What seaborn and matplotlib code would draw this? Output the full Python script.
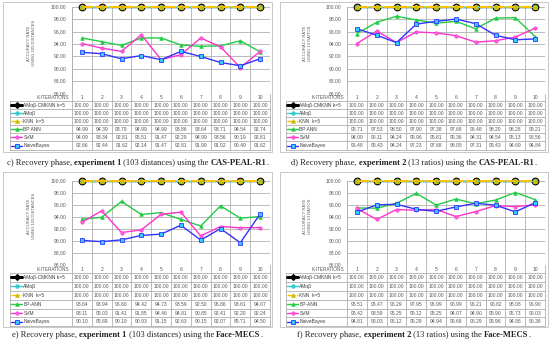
import matplotlib
matplotlib.use('Agg')
import matplotlib.pyplot as plt
import seaborn as sns

# ---- data -------------------------------------------------------------
iterations = [1, 2, 3, 4, 5, 6, 7, 8, 9, 10]
labels_cd = ['AMαβ-CMKNN k=5', 'AMαβ', 'KNN  k=5', 'BP ANN', 'SVM', 'NaiveBayes']
labels_ef = ['AMαβ-CMKNN k=5', 'AMαβ', 'KNN  k=5', 'BP-ANN', 'SVM', 'NaiveBayes']

perfect = [100.00, 100.00, 100.00, 100.00, 100.00, 100.00, 100.00, 100.00, 100.00, 100.00]

# c) experiment 1, CAS-PEAL-R1
c_bpann = [94.99, 94.39, 93.79, 94.99, 94.99, 93.86, 93.64, 93.71, 94.54, 92.74]
c_svm = [94.09, 93.34, 92.81, 95.51, 91.47, 92.29, 94.99, 93.56, 90.19, 92.81]
c_nb = [92.66, 92.44, 91.62, 92.14, 91.47, 92.81, 91.99, 91.02, 90.49, 91.62]

# d) experiment 2, CAS-PEAL-R1
d_bpann = [95.71, 97.53, 98.50, 97.90, 97.38, 97.68, 96.48, 98.20, 98.28, 95.21]
d_svm = [94.09, 96.11, 94.24, 95.96, 95.81, 95.36, 94.31, 94.54, 95.13, 96.56]
d_nb = [96.48, 95.43, 94.24, 97.23, 97.68, 98.05, 97.31, 95.43, 94.69, 94.84]

# e) experiment 1, Face-MECS
e_bpann = [93.64, 93.94, 96.60, 94.42, 94.73, 93.59, 92.50, 95.86, 93.81, 94.07]
e_svm = [93.11, 95.03, 91.41, 91.85, 94.46, 94.81, 90.85, 92.41, 92.20, 92.24]
e_nb = [90.10, 89.89, 90.19, 90.93, 91.15, 92.63, 90.15, 92.07, 89.71, 94.50]

# f) experiment 2, Face-MECS
f_bpann = [95.51, 95.47, 96.29, 97.95, 95.99, 96.99, 96.21, 96.82, 98.08, 96.90]
f_svm = [95.42, 93.59, 95.25, 95.12, 95.25, 94.07, 94.90, 95.90, 95.73, 96.03]
f_nb = [94.81, 96.03, 96.12, 95.29, 94.94, 95.68, 96.29, 95.96, 94.86, 96.38]

y_ticks = [86, 88, 90, 92, 94, 96, 98, 100]

# ---- styles -----------------------------------------------------------
styles = [
    dict(color='black', lw=0.9, marker='o', ms=4.8, mfc='#FF9900', mec='black', mew=0.8),
    dict(color='#33CCCC', lw=1.0, marker='o', ms=2.6, mfc='#33CCCC', mec='#33CCCC', mew=0.5),
    dict(color='#FFC000', lw=1.4, marker='^', ms=2.8, mfc='#C8C000', mec='#C8C000', mew=0.5, ls=(0, (6, 1))),
    dict(color='#22CC44', lw=1.0, marker='^', ms=2.6, mfc='#22CC44', mec='#22CC44', mew=0.5),
    dict(color='#FF33CC', lw=1.0, marker='o', ms=2.4, mfc='#FF66DD', mec='#FF33CC', mew=0.5),
    dict(color='#3333FF', lw=1.0, marker='s', ms=2.8, mfc='#33CCFF', mec='#3333FF', mew=0.6),
]

sns.set_theme(style='white')
plt.rcParams['font.family'] = ['Liberation Sans', 'DejaVu Sans']

W, H = 550, 343
fig = plt.figure(figsize=(W / 100, H / 100), dpi=100)
fig.patch.set_facecolor('white')
renderer = fig.canvas.get_renderer()

GRID = '#AFAFAF'
TXT = '#595959'


def fbox(x0, y0, x1, y1):
    return [x0 / W, 1 - y1 / H, (x1 - x0) / W, (y1 - y0) / H]


def caption(parts, cx, cy):
    texts = []
    for s, bold in parts:
        t = fig.text(0, 0, s, fontsize=6.1, family=['Liberation Serif', 'DejaVu Serif'],
                     fontweight='bold' if bold else 'normal', color='#222222',
                     va='center', ha='left')
        texts.append(t)
    widths = [t.get_window_extent(renderer).width for t in texts]
    x = cx - sum(widths) / 2
    for t, w in zip(texts, widths):
        t.set_position((x / W, 1 - cy / H))
        x += w


def panel(box, left, right, top, bottom, tbl_left, head_h, row_h, series, labels, ylab, cap, cap_y):
    # outer frame
    fig.add_artist(plt.Rectangle((box[0] / W, 1 - box[3] / H), (box[2] - box[0]) / W,
                                 (box[3] - box[1]) / H, transform=fig.transFigure,
                                 fill=False, ec='#BFBFBF', lw=0.6))

    ax = fig.add_axes(fbox(left, top, right, bottom))
    ax.set_facecolor('white')
    for i, vals in enumerate(series):
        st = dict(styles[i])
        sns.lineplot(x=iterations, y=vals, ax=ax, color=st.pop('color'), lw=st.pop('lw'),
                     marker=st.pop('marker'), markersize=st.pop('ms'),
                     markerfacecolor=st.pop('mfc'), mec=st.pop('mec'), mew=st.pop('mew'),
                     linestyle=st.pop('ls', '-'), clip_on=False, zorder=3 + i * 0.1 if i < 3 else 3)
    ax.set_xlim(0.5, 10.5)
    ax.set_ylim(86, 100)
    ax.set_yticks(y_ticks)
    ax.set_yticklabels([f'{v:.2f}' for v in y_ticks], fontsize=3.6, color=TXT)
    ax.set_xticks([x + 0.5 for x in range(0, 11)])
    ax.set_xticklabels([])
    ax.tick_params(length=0, pad=4)
    ax.grid(True, color=GRID, lw=0.6)
    for sp in ax.spines.values():
        sp.set_visible(False)
    ax.spines['left'].set_visible(True)
    ax.spines['left'].set_color(GRID)
    ax.spines['left'].set_linewidth(0.6)
    ax.set_ylabel(ylab, fontsize=3.0, color=TXT, linespacing=1.3)
    ax.yaxis.set_label_coords(-(left - tbl_left - 26) / (right - left), 0.58)

    # table below the plot
    tbl_bottom = bottom + head_h + row_h * len(labels)
    pxu = (right - left) / 10.0
    x0 = 0.5 - (left - tbl_left) / pxu
    tax = fig.add_axes(fbox(tbl_left, bottom, right, tbl_bottom))
    tax.set_xlim(x0, 10.5)
    tax.set_ylim(tbl_bottom, bottom)
    tax.axis('off')
    lk = dict(color=GRID, lw=0.6, clip_on=False)
    for xv in [x + 0.5 for x in range(0, 11)]:
        tax.plot([xv, xv], [bottom, tbl_bottom], **lk)
    tax.plot([x0, x0], [bottom + head_h, tbl_bottom], **lk)
    for r in range(len(labels) + 1):
        yy = bottom + head_h + r * row_h
        tax.plot([x0, 10.5], [yy, yy], **lk)

    hc = bottom + head_h / 2 + 0.3
    tax.text(0.5 - 0.12, hc, 'K-ITERATIONS', fontsize=3.4, color=TXT, ha='right', va='center')
    for k in iterations:
        tax.text(k, hc, str(k), fontsize=3.6, color=TXT, ha='center', va='center')

    for r, (lab, vals) in enumerate(zip(labels, series)):
        yc = bottom + head_h + (r + 0.5) * row_h
        st = dict(styles[r])
        mk = 'D' if r == 0 else st['marker']
        ms = 3.0 if r == 0 else st['ms']
        mfc = 'black' if r == 0 else st['mfc']
        tax.plot([x0 + 0.07, x0 + 0.62], [yc, yc], color=st['color'],
                 lw=2.2 if r == 0 else 1.0, ls=st.get('ls', '-'), clip_on=False)
        tax.plot([x0 + 0.37], [yc], marker=mk, ms=ms, mfc=mfc, mec=st['mec'],
                 mew=st['mew'], ls='none', clip_on=False)
        tax.text(x0 + 0.68, yc, lab, fontsize=3.5, color='#404040', ha='left', va='center')
        for k, v in zip(iterations, vals):
            tax.text(k, yc, f'{v:.2f}', fontsize=3.6, color=TXT, ha='center', va='center')

    caption(cap, (box[0] + box[2]) / 2, cap_y)


panel((3, 2, 272, 152), 72, 270, 7, 93.5, 10, 7.5, 8.1,
      [perfect, perfect, perfect, c_bpann, c_svm, c_nb], labels_cd,
      'ACCURACY RATE\nUSING 103 DISTANCES',
      [('c) Recovery phase, ', False), ('experiment 1', True),
       (' (103 distances) using the ', False), ('CAS-PEAL-R1', True), ('.', False)], 163)

panel((280, 2, 548, 152), 347, 545, 7, 93.5, 286, 7.5, 8.1,
      [perfect, perfect, perfect, d_bpann, d_svm, d_nb], labels_cd,
      'ACCURACY RATE\nUSING 13 RATIOS',
      [('d) Recovery phase, ', False), ('experiment 2', True),
       (' (13 ratios) using the ', False), ('CAS-PEAL-R1', True), ('.', False)], 163)

panel((3, 172, 272, 327), 72, 270, 181, 265, 10, 8.0, 8.9,
      [perfect, perfect, perfect, e_bpann, e_svm, e_nb], labels_ef,
      'ACCURACY RATE\nUSING 103 DISTANCES',
      [('e) Recovery phase, ', False), ('experiment 1', True),
       (' (103 distances) using the ', False), ('Face-MECS', True), ('.', False)], 335)

panel((280, 172, 548, 327), 347, 545, 181, 265, 286, 8.0, 8.9,
      [perfect, perfect, perfect, f_bpann, f_svm, f_nb], labels_ef,
      'ACCURACY RATE\nUSING 13 RATIOS',
      [('f) Recovery phase, ', False), ('experiment 2', True),
       (' (13 ratios) using the ', False), ('Face-MECS', True), ('.', False)], 335)

fig.savefig('out.png', dpi=100, facecolor='white')
